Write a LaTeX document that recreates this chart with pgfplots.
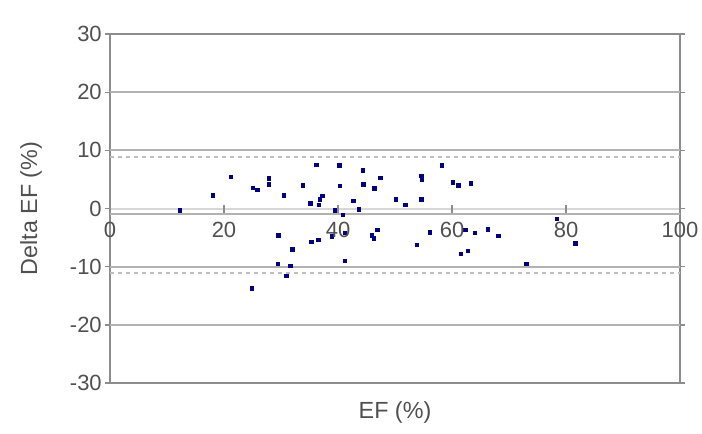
\documentclass[border=0pt]{standalone}
\usepackage{fontspec}
\setmainfont{Liberation Sans}
\usepackage{pgfplots}
\pgfplotsset{compat=1.18}
\definecolor{frame}{RGB}{140,140,140}
\definecolor{gridc}{RGB}{178,178,178}
\definecolor{zeroc}{RGB}{215,215,215}
\definecolor{limc}{RGB}{190,190,190}
\definecolor{txt}{RGB}{80,80,80}
\definecolor{ptc}{RGB}{0,0,128}
\begin{document}
\begin{tikzpicture}[x=1pt,y=1pt]
\useasboundingbox (-82.5,-37.5) rectangle (444,287.25);
\begin{axis}[at={(0,0)}, anchor=south west, scale only axis,
  width=427.5pt, height=261.75pt,
  xmin=0, xmax=100, ymin=-30, ymax=30,
  ytick={-30,-20,...,30}, xtick=\empty,
  tick align=outside, major tick length=4pt,
  axis line style={frame, line width=1.6pt},
  ytick style={frame, line width=1pt},
  yticklabel style={txt, font=\fontsize{16.5}{18}\selectfont, inner sep=2pt},
  /pgf/number format/assume math mode=true,
  ylabel={Delta EF (\%)},
  every axis y label/.style={at={(axis description cs:-0.1386,0.5)}, rotate=90, anchor=center, txt, font=\fontsize{17.5}{19}\selectfont},
  xlabel={EF (\%)},
  every axis x label/.style={at={(axis description cs:0.5,-0.083)}, anchor=center, txt, font=\fontsize{17.5}{19}\selectfont},
  clip=false,
]
\addplot[gridc, line width=1.5pt] coordinates {(0,20) (100,20)};
\addplot[gridc, line width=1.5pt] coordinates {(0,10) (100,10)};
\addplot[gridc, line width=1.5pt] coordinates {(0,-10) (100,-10)};
\addplot[gridc, line width=1.5pt] coordinates {(0,-20) (100,-20)};
\addplot[zeroc, line width=1.5pt] coordinates {(0,0) (100,0)};
\addplot[limc, line width=1.2pt, dash pattern=on 3pt off 3pt] coordinates {(0,8.9) (100,8.9)};
\addplot[limc, line width=1.2pt, dash pattern=on 3pt off 3pt] coordinates {(0,-11.1) (100,-11.1)};
\addplot[gridc, line width=1.6pt] coordinates {(0,-0.9) (100,-0.9)};
\addplot[only marks, mark=square*, mark size=1.3pt, ptc, mark options={draw=ptc, fill=ptc}] coordinates {
(12.2,-0.3) (18.0,2.3) (21.2,5.5) (25.0,3.6) (25.8,3.2) (27.9,5.2) (27.9,4.2)
(30.5,2.3) (33.8,4.0) (35.1,0.9) (36.2,7.5) (36.6,0.6) (36.8,1.6) (37.2,2.2)
(39.4,-0.3) (40.2,7.4) (40.3,3.9) (40.8,-1.1) (42.7,1.3) (43.6,-0.1) (44.3,6.6)
(44.4,4.2) (46.4,3.5) (47.4,5.3) (50.1,1.6) (51.8,0.6) (54.6,5.6) (54.7,4.9)
(54.6,1.6) (58.2,7.4) (60.1,4.5) (61.1,4.0) (63.3,4.3) (78.4,-1.8)
(29.5,-4.6) (32.0,-7.0) (29.4,-9.5) (31.6,-9.8) (30.9,-11.6) (24.9,-13.7)
(35.3,-5.7) (36.5,-5.4) (38.9,-4.8) (41.2,-4.2) (41.2,-9.0) (45.9,-4.6)
(46.3,-5.1) (46.9,-3.7) (53.8,-6.2) (56.1,-4.1) (62.3,-3.7) (64.0,-4.2)
(66.3,-3.6) (68.1,-4.7) (61.5,-7.8) (62.8,-7.3) (73.0,-9.5) (81.6,-6.0)
};
\end{axis}
\begin{axis}[at={(0,0)}, anchor=south west, scale only axis,
  width=427.5pt, height=261.75pt,
  xmin=0, xmax=100, ymin=-30, ymax=30,
  axis x line=middle, axis y line=none,
  x axis line style={draw=none},
  xtick={0,20,...,100}, ytick=\empty,
  tick align=center, major tick length=6pt,
  xtick style={frame, line width=1pt},
  xticklabel style={txt, font=\fontsize{16.5}{18}\selectfont, anchor=north, yshift=-3.5pt},
  /pgf/number format/assume math mode=true,
  hide obscured x ticks=false,
]
\end{axis}
\end{tikzpicture}
\end{document}
